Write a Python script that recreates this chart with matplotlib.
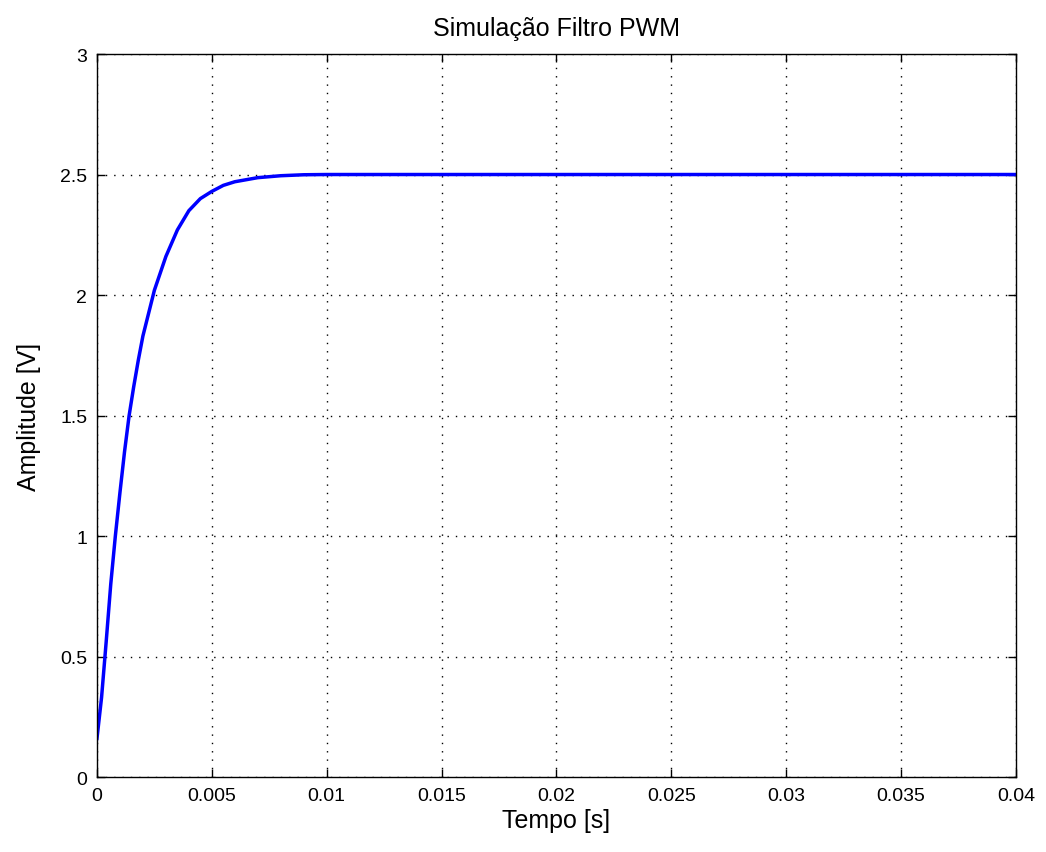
import numpy as np
import matplotlib
matplotlib.use("Agg")
import matplotlib.pyplot as plt

# values
tempo = [0.0, 0.0002, 0.0004, 0.0006, 0.0008, 0.001, 0.0012, 0.0014, 0.0016,
         0.0018, 0.002, 0.0025, 0.003, 0.0035, 0.004, 0.0045, 0.005, 0.0055,
         0.006, 0.007, 0.008, 0.009, 0.01, 0.02, 0.03, 0.04]
amplitude = [0.16, 0.33, 0.56, 0.80, 1.00, 1.18, 1.35, 1.50, 1.62,
             1.73, 1.83, 2.02, 2.16, 2.27, 2.35, 2.40, 2.43, 2.455,
             2.47, 2.487, 2.495, 2.499, 2.5, 2.5, 2.5, 2.5]
xticks = [0, 0.005, 0.01, 0.015, 0.02, 0.025, 0.03, 0.035, 0.04]
xlabels = ["0", "0.005", "0.01", "0.015", "0.02", "0.025", "0.03", "0.035", "0.04"]
yticks = [0, 0.5, 1, 1.5, 2, 2.5, 3]
ylabels = ["0", "0.5", "1", "1.5", "2", "2.5", "3"]

plt.rcParams['font.family'] = ['Liberation Sans', 'DejaVu Sans']

fig = plt.figure(figsize=(10.46, 8.53), dpi=100)
ax = fig.add_axes([0.0927, 0.0879, 0.8786, 0.8476])

ax.plot(tempo, amplitude, color='#0000ff', linewidth=2.5)

ax.set_xlim(0, 0.04)
ax.set_ylim(0, 3)
ax.set_xticks(xticks)
ax.set_xticklabels(xlabels)
ax.set_yticks(yticks)
ax.set_yticklabels(ylabels)
ax.tick_params(direction='in', length=6, width=1, top=True, right=True,
               labelsize=14, pad=7)
for s in ax.spines.values():
    s.set_linewidth(1)
ax.grid(True, color='black', linestyle=(0, (1, 5)), linewidth=1)

ax.set_title("Simulação Filtro PWM", fontsize=18, pad=14)
ax.set_xlabel("Tempo [s]", fontsize=18, labelpad=3)
ax.set_ylabel("Amplitude [V]", fontsize=18, labelpad=14)

fig.savefig("out.png", dpi=100)
plt.close('all')
